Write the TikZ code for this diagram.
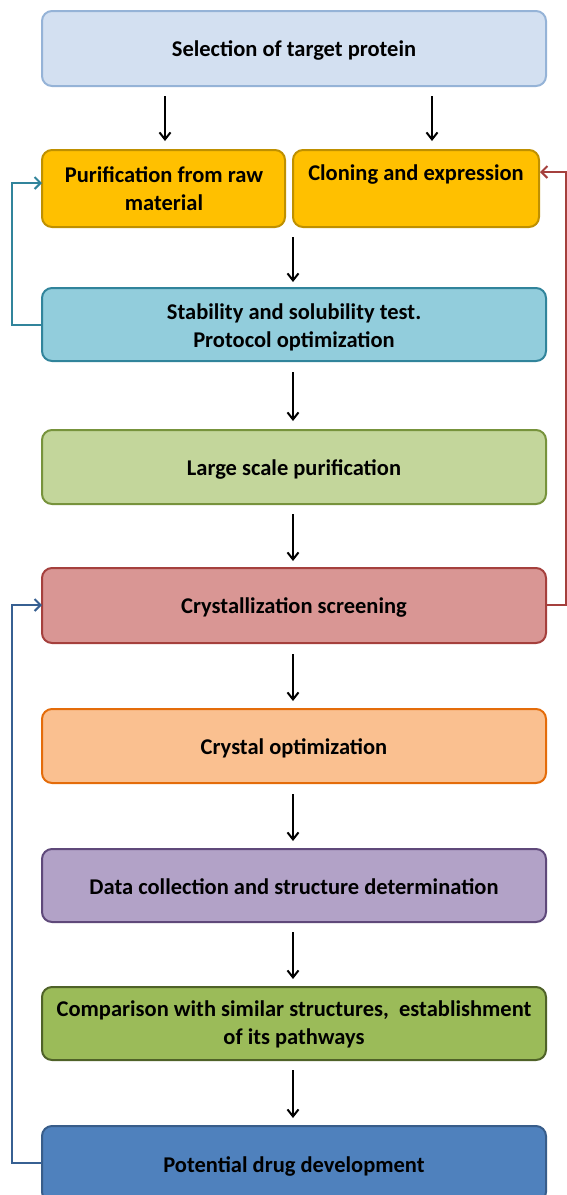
\documentclass[tikz,border=0pt]{standalone}
\usepackage{fontspec}
\setmainfont{Carlito}
\usetikzlibrary{arrows.meta,calc}
\definecolor{selfill}{HTML}{D3E0F1}
\definecolor{seldraw}{HTML}{95B3D7}
\definecolor{orfill}{HTML}{FFC000}
\definecolor{ordraw}{HTML}{BF9000}
\definecolor{stfill}{HTML}{92CDDC}
\definecolor{stdraw}{HTML}{31849B}
\definecolor{lgfill}{HTML}{C3D69B}
\definecolor{lgdraw}{HTML}{77933C}
\definecolor{crfill}{HTML}{D99694}
\definecolor{crdraw}{HTML}{A5403D}
\definecolor{opfill}{HTML}{FAC090}
\definecolor{opdraw}{HTML}{E46C0A}
\definecolor{dcfill}{HTML}{B2A2C7}
\definecolor{dcdraw}{HTML}{5F497A}
\definecolor{cmfill}{HTML}{9BBB59}
\definecolor{cmdraw}{HTML}{4F6228}
\definecolor{pdfill}{HTML}{4F81BD}
\definecolor{pddraw}{HTML}{385D8A}
\definecolor{bluelink}{HTML}{376092}
\tikzset{
  box/.style={rounded corners=10pt, line width=2pt, inner sep=0pt},
  lbl/.style={font=\bfseries\fontsize{22.5}{28}\selectfont, align=center, text=black},
  down/.style={line width=2pt, -{Straight Barb[length=7pt,width=11pt,line width=2pt]}},
  fb/.style={line width=2.2pt, -{Straight Barb[length=6pt,width=12pt,line width=2pt]}}
}
\begin{document}
\begin{tikzpicture}[x=1pt,y=-1pt]
\useasboundingbox (0,0) rectangle (567,1195);
% boxes
\draw[box, fill=selfill, draw=seldraw] (42,11) rectangle (546,86);
\node[lbl] (sel) at (294,50) {Selection of target protein};
\coordinate (selL) at (165,96);
\coordinate (selR) at (432,96);

\draw[box, fill=orfill, draw=ordraw] (42,150) rectangle (285,227);
\node[lbl] (pur) at (164,189) {Purification from raw\\material};
\coordinate (purW) at (42,183);
\coordinate (purTop) at (165,141);

\draw[box, fill=orfill, draw=ordraw] (293,150) rectangle (539,227);
\node[lbl] (clo) at (416,175) {Cloning and expression};
\coordinate (cloE) at (540,172);
\coordinate (cloTop) at (432,141);

\draw[box, fill=stfill, draw=stdraw] (42,288) rectangle (546,361);
\node[lbl] (sta) at (294,327) {Stability and solubility test.\\Protocol optimization};
\coordinate (staW) at (42,325);

\draw[box, fill=lgfill, draw=lgdraw] (42,430) rectangle (546,504);
\node[lbl] (lar) at (294,469) {Large scale purification};

\draw[box, fill=crfill, draw=crdraw] (42,568) rectangle (546,643);
\node[lbl] (cry) at (294,607) {Crystallization screening};
\coordinate (cryW) at (42,605);
\coordinate (cryE) at (546,605);

\draw[box, fill=opfill, draw=opdraw] (42,709) rectangle (546,783);
\node[lbl] (opt) at (294,748) {Crystal optimization};

\draw[box, fill=dcfill, draw=dcdraw] (42,849) rectangle (546,922);
\node[lbl] (dat) at (294,887) {Data collection and structure determination};

\draw[box, fill=cmfill, draw=cmdraw] (42,987) rectangle (546,1060);
\node[lbl] (cmp) at (294,1024) {Comparison with similar structures,~ establishment\\of its pathways};

\draw[box, fill=pdfill, draw=pddraw] (42,1126) rectangle (546,1202);
\node[lbl] (pot) at (294,1166) {Potential drug development};
\coordinate (potW) at (42,1163);

% vertical arrows
\draw[down] (selL) -- (purTop);
\draw[down] (selR) -- (cloTop);
\coordinate (a1) at (293,237); \coordinate (b1) at (293,282);
\coordinate (a2) at (293,372); \coordinate (b2) at (293,421);
\coordinate (a3) at (293,514); \coordinate (b3) at (293,561);
\coordinate (a4) at (293,654); \coordinate (b4) at (293,701);
\coordinate (a5) at (293,794); \coordinate (b5) at (293,841);
\coordinate (a6) at (293,932); \coordinate (b6) at (293,979);
\coordinate (a7) at (293,1070); \coordinate (b7) at (293,1118);
\foreach \i in {1,...,7} {\draw[down] (a\i) -- (b\i);}

% feedback connectors
\draw[fb, draw=stdraw] (staW) -- (12,325) -- (12,183) -- (purW);
\draw[fb, draw=bluelink] (potW) -- (12,1163) -- (12,605) -- (cryW);
\draw[fb, draw=crdraw] (cryE) -- (566,605) -- (566,172) -- (cloE);
\end{tikzpicture}
\end{document}
